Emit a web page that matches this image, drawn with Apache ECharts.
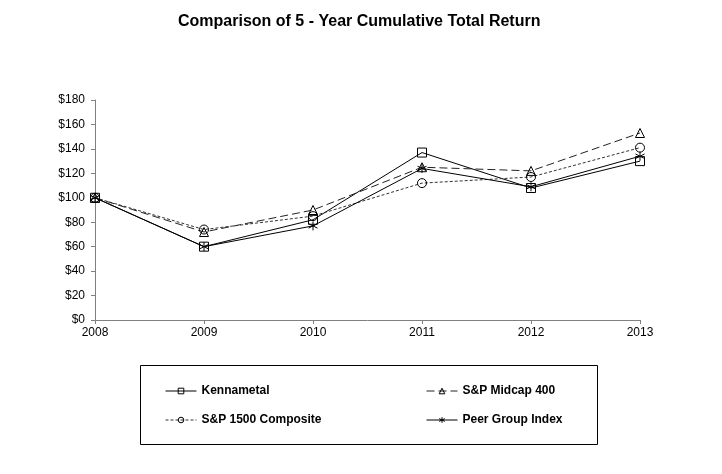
<!DOCTYPE html>
<html><head><meta charset="utf-8">
<script src="https://cdn.jsdelivr.net/npm/echarts@6/dist/echarts.min.js"></script>
<style>html,body{margin:0;padding:0;background:#fff}#c{width:722px;height:474px}</style>
</head><body><div id="c"></div>
<script>
var years = ['2008','2009','2010','2011','2012','2013'];
var kennametal = [100, 60, 82, 137, 108, 130];
var midcap400 = [100, 72, 90, 125, 122, 153];
var sp1500 = [100, 74, 85, 112, 117, 141];
var peerGroup = [100, 60, 77, 124, 109, 134];
var seriesNames = ['Kennametal','S&P Midcap 400','S&P 1500 Composite','Peer Group Index'];

var starPath = 'path://M5,0 L5,10 M0.7,2.5 L9.3,7.5 M9.3,2.5 L0.7,7.5';
var font = 'Liberation Sans, Arial, sans-serif';
var chart = echarts.init(document.getElementById('c'), null, {renderer:'canvas'});

function mk(name, data, symbol, size, lineType, lineColor){
  return {
    name: name, type: 'line', data: data, symbol: symbol, symbolSize: size,
    showAllSymbol: true, animation: false,
    lineStyle: {color: lineColor, width: 1, type: lineType},
    itemStyle: {color: 'rgba(255,255,255,0)', borderColor: '#000', borderWidth: 1},
    emphasis: {disabled: true}
  };
}
function leg(name, left, top){
  return {
    data: [name], left: left, top: top, padding: 0, itemWidth: 31, itemHeight: 7,
    itemGap: 5, selectedMode: false,
    lineStyle: {width: 1},
    itemStyle: {borderWidth: 1},
    textStyle: {fontFamily: font, fontWeight: 'bold', fontSize: 12, color: '#000'}
  };
}

chart.setOption({
  backgroundColor: '#fff',
  animation: false,
  title: {text: 'Comparison of 5 - Year Cumulative Total Return', left: 173, top: 9,
    textStyle: {fontFamily: font, fontWeight: 'bold', fontSize: 16, color: '#000'}},
  grid: {left: 95, right: 82, top: 100, bottom: 154},
  xAxis: {type: 'category', data: years, boundaryGap: false,
    axisLine: {lineStyle: {color: '#808080'}},
    axisTick: {show: true, length: 4, lineStyle: {color: '#808080'}},
    axisLabel: {fontFamily: font, fontSize: 12, color: '#000', margin: 7},
    splitLine: {show: false}},
  yAxis: {type: 'value', min: 0, max: 180, interval: 20,
    axisLine: {show: true, lineStyle: {color: '#808080'}},
    axisTick: {show: true, length: 4, lineStyle: {color: '#808080'}},
    axisLabel: {fontFamily: font, fontSize: 12, color: '#000', margin: 10, formatter: '${value}'},
    splitLine: {show: false}},
  legend: [
    leg(seriesNames[0], 165, 385),
    leg(seriesNames[1], 426, 385),
    leg(seriesNames[2], 165, 414),
    leg(seriesNames[3], 426, 414)
  ],
  graphic: [{type: 'rect', left: 138, top: 363, shape: {width: 457, height: 79},
    style: {fill: 'none', stroke: '#000', lineWidth: 1}, z: 0}],
  series: [
    mk(seriesNames[0], kennametal, 'rect', 9, 'solid', '#000'),
    mk(seriesNames[1], midcap400, 'triangle', 9, [8,4], '#222'),
    mk(seriesNames[2], sp1500, 'circle', 9, [3,2], '#333'),
    mk(seriesNames[3], peerGroup, starPath, 9, 'solid', '#000')
  ]
});
</script></body></html>
